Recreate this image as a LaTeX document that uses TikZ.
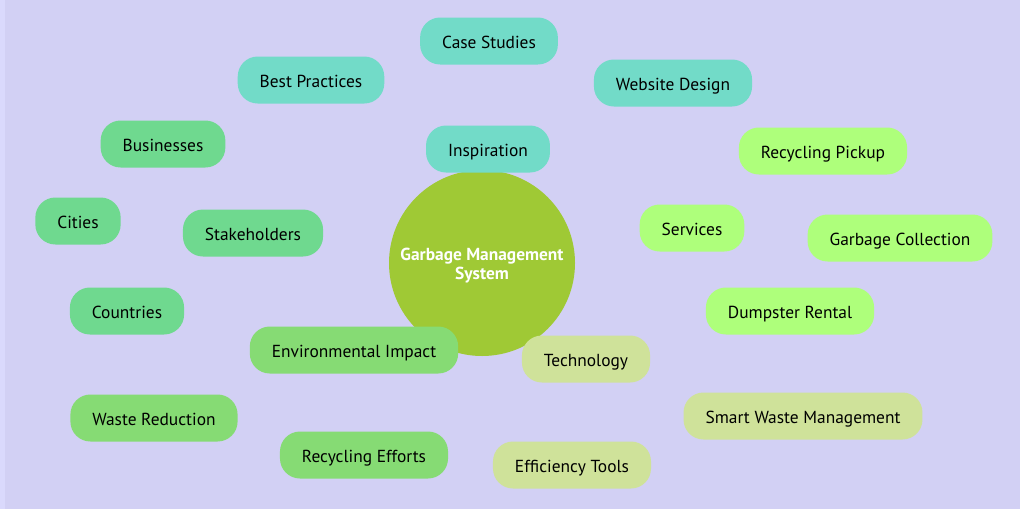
\documentclass[tikz,border=0pt]{standalone}
\usepackage{fontspec}
\setmainfont{PT Sans}
\usepackage{tikz}
\usetikzlibrary{positioning}
\usepackage{xcolor}

\definecolor{bglav}{HTML}{D2D0F4}
\definecolor{striplav}{HTML}{DAD9FC}
\definecolor{hubgreen}{HTML}{9FC935}
\definecolor{tealbox}{HTML}{72DBC8}
\definecolor{mintbox}{HTML}{6FD98F}
\definecolor{leafbox}{HTML}{86DB74}
\definecolor{limebox}{HTML}{AEFF7B}
\definecolor{palebox}{HTML}{CFE29A}

\begin{document}
\begin{tikzpicture}[x=1pt, y=-1pt,
  topic/.style={rounded corners=20pt, minimum height=47pt,
                inner xsep=22pt, text height=17pt, text depth=3pt,
                font=\fontsize{17.4}{20}\selectfont, text=black},
  hub/.style={circle, fill=hubgreen, minimum size=186pt, inner sep=0pt},
  hubtext/.style={align=center, text=white, yshift=-3pt,
                  font=\bfseries\fontsize{17.4}{19}\selectfont},
  ]
  % canvas
  \fill[bglav] (0,0) rectangle (1020,509);
  \fill[striplav] (0,0) rectangle (5,509);
  \useasboundingbox (0,0) rectangle (1020,509);

  % centre
  \node[hub, label={[hubtext]center:Garbage Management\\System}] (gms)
    at (482,263) {};

  % inspiration branch
  \node[topic, fill=tealbox] (insp) at (488,149) {Inspiration};
  \node[topic, fill=tealbox] (case) at (489,41) {Case Studies};
  \node[topic, fill=tealbox] (best) at (311,80) {Best Practices};
  \node[topic, fill=tealbox] (web) at (673,83) {Website Design};

  % stakeholders branch
  \node[topic, fill=mintbox] (stake) at (253,233) {Stakeholders};
  \node[topic, fill=mintbox] (biz) at (163,144) {Businesses};
  \node[topic, fill=mintbox] (city) at (78,221) {Cities};
  \node[topic, fill=mintbox] (ctry) at (127,311) {Countries};

  % services branch
  \node[topic, fill=limebox] (serv) at (692,228) {Services};
  \node[topic, fill=limebox] (pick) at (823,151) {Recycling Pickup};
  \node[topic, fill=limebox] (coll) at (900,238) {Garbage Collection};
  \node[topic, fill=limebox] (dump) at (790,311) {Dumpster Rental};

  % environment branch
  \node[topic, fill=leafbox] (env) at (354,350) {Environmental Impact};
  \node[topic, fill=leafbox] (wred) at (154,418) {Waste Reduction};
  \node[topic, fill=leafbox] (reff) at (364,455) {Recycling Efforts};

  % technology branch
  \node[topic, fill=palebox] (tech) at (586,359) {Technology};
  \node[topic, fill=palebox] (smart) at (803,416) {Smart Waste Management};
  \node[topic, fill=palebox] (eff) at (572,465) {Efficiency Tools};
\end{tikzpicture}
\end{document}
